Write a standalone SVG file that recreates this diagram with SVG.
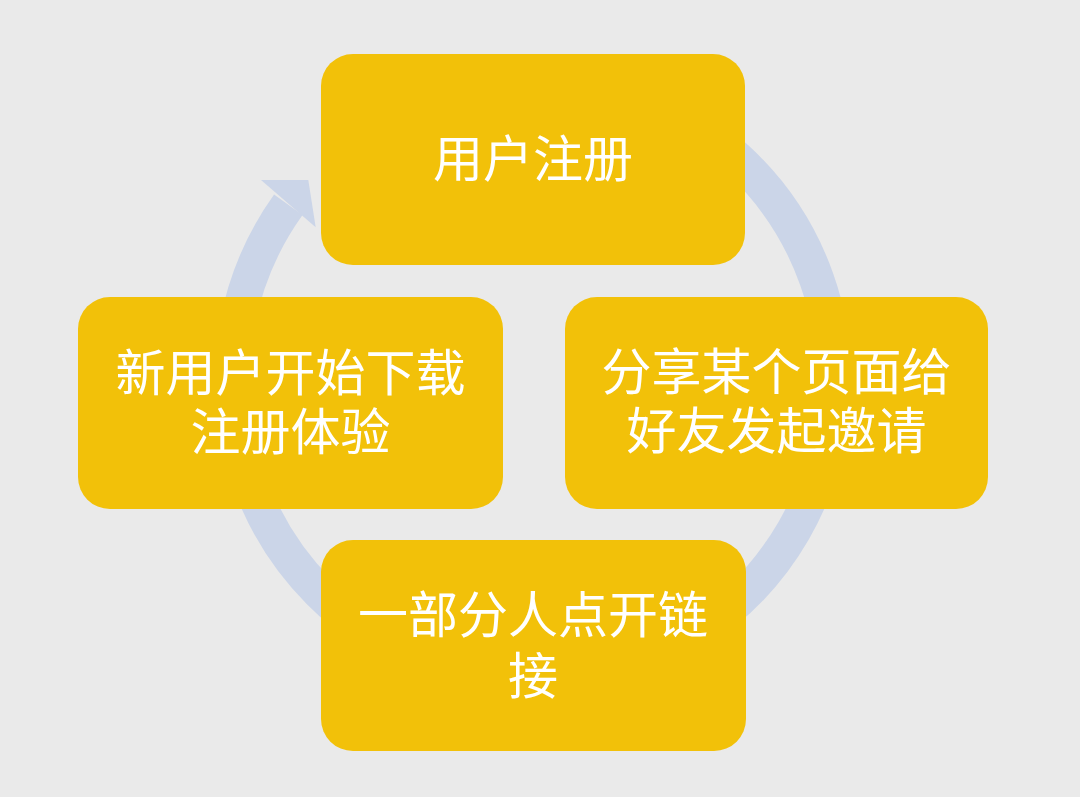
<svg xmlns="http://www.w3.org/2000/svg" width="1080" height="797" viewBox="0 0 1080 797">
  <style>
    .node { fill: #F2C109; }
    .label { font-family: "Noto Sans CJK SC", "Noto Sans", sans-serif; font-size: 50px; fill: #FFFFFF; text-anchor: middle; }
    .ring { fill: none; stroke: #CBD5E8; stroke-width: 35; }
    .head { fill: #CBD5E8; }
  </style>
  <rect x="0" y="0" width="1080" height="797" fill="#EAEAEA"/>
  <g id="connectors">
    <path class="ring" d="M 480.7 83.6 A 301 301 0 1 1 288.3 204.8"/>
    <polygon class="head" points="261,180 308.3,180 315.7,227.3"/>
  </g>
  <g id="node-register">
    <rect class="node" x="321" y="54" width="424" height="211" rx="32" ry="32"/>
    <text class="label" x="533" y="177">用户注册</text>
  </g>
  <g id="node-share">
    <rect class="node" x="565" y="297" width="423" height="212" rx="32" ry="32"/>
    <text class="label" x="776.5" y="390">分享某个页面给</text>
    <text class="label" x="776.5" y="449">好友发起邀请</text>
  </g>
  <g id="node-click">
    <rect class="node" x="321" y="540" width="425" height="211" rx="32" ry="32"/>
    <text class="label" x="533" y="633">一部分人点开链</text>
    <text class="label" x="533" y="694">接</text>
  </g>
  <g id="node-newuser">
    <rect class="node" x="78" y="297" width="425" height="212" rx="32" ry="32"/>
    <text class="label" x="290.5" y="391">新用户开始下载</text>
    <text class="label" x="290.5" y="450">注册体验</text>
  </g>
</svg>
